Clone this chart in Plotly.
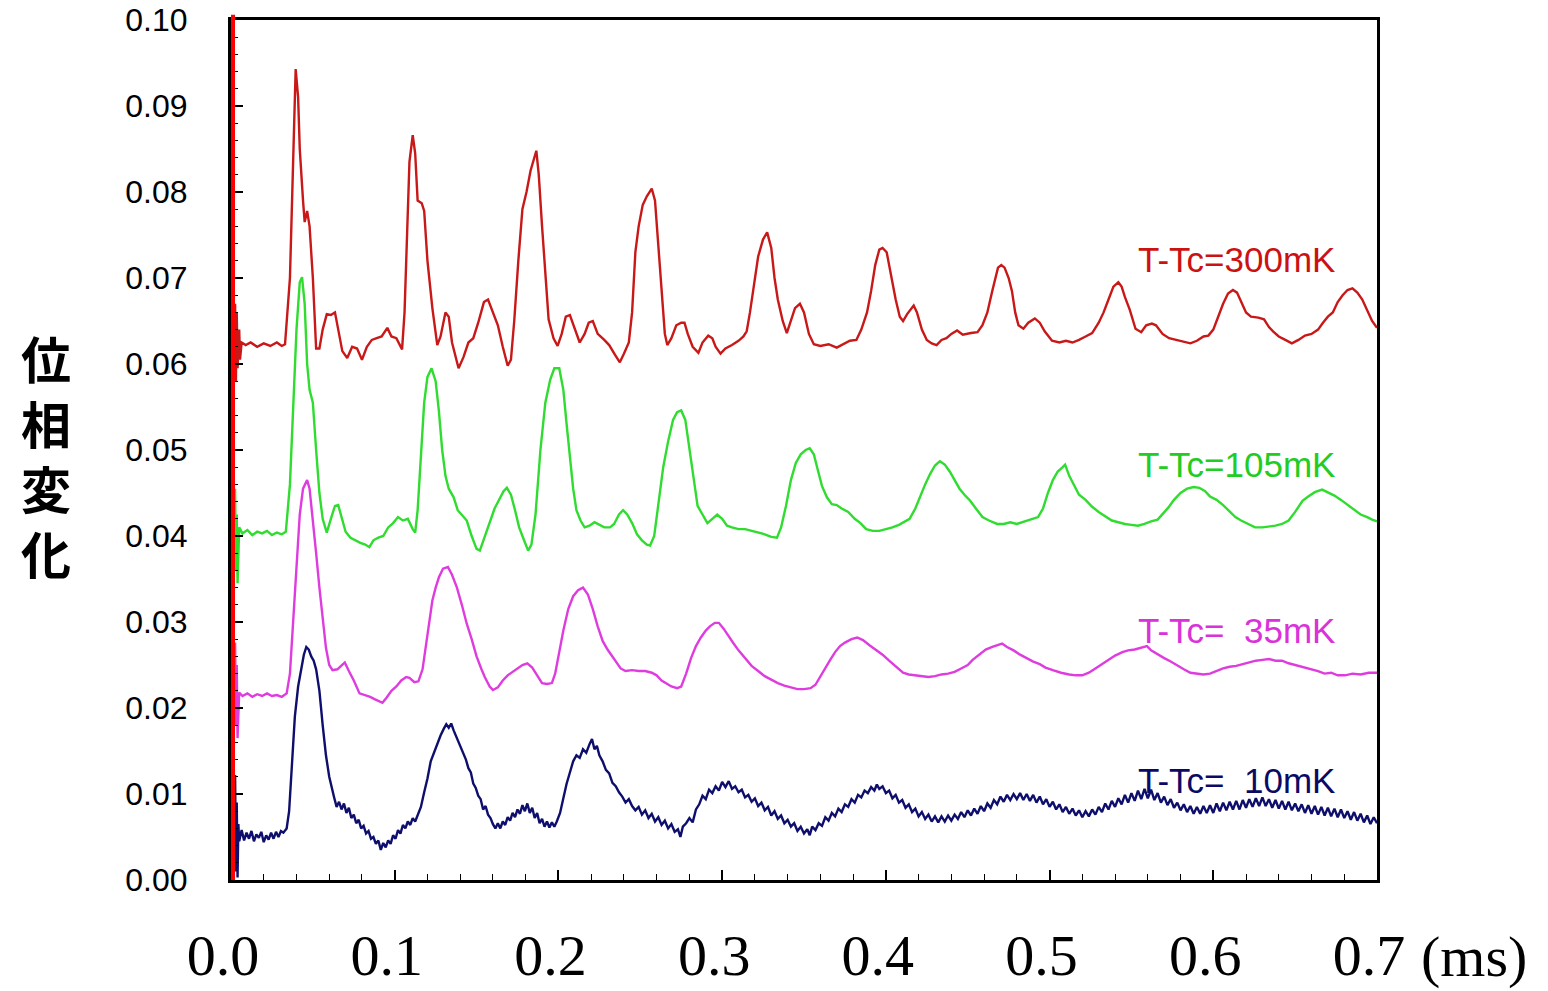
import plotly.graph_objects as go

# ---------------- data (time in ms, phase change) ----------------
RED_300MK = [
    (0.002, 0.0625), (0.0025, 0.067), (0.003, 0.058), (0.0035, 0.066), (0.004, 0.0595), (0.005, 0.064),
    (0.0055, 0.0605), (0.0065, 0.0625), (0.009, 0.0622), (0.012, 0.0625), (0.016, 0.062), (0.020, 0.0624),
    (0.024, 0.0621), (0.028, 0.0625), (0.031, 0.0621), (0.033, 0.0623), (0.036, 0.070), (0.038, 0.085),
    (0.0395, 0.0943), (0.041, 0.091), (0.042, 0.085), (0.044, 0.079), (0.045, 0.0765), (0.0465, 0.0778),
    (0.048, 0.076), (0.050, 0.070), (0.052, 0.0618), (0.054, 0.0618), (0.056, 0.064), (0.0585, 0.0658),
    (0.061, 0.0657), (0.0635, 0.066), (0.066, 0.0635), (0.068, 0.0615), (0.071, 0.0607), (0.074, 0.062),
    (0.077, 0.0618), (0.080, 0.0605), (0.083, 0.062), (0.086, 0.0628), (0.089, 0.063), (0.092, 0.0632),
    (0.0955, 0.0642), (0.098, 0.0632), (0.101, 0.063), (0.1045, 0.0617), (0.106, 0.066), (0.1075, 0.075),
    (0.109, 0.0835), (0.111, 0.0866), (0.1125, 0.0845), (0.114, 0.079), (0.1165, 0.0787), (0.118, 0.0778),
    (0.120, 0.072), (0.123, 0.0665), (0.126, 0.0622), (0.128, 0.0632), (0.131, 0.066), (0.133, 0.0655),
    (0.135, 0.0625), (0.139, 0.0595), (0.142, 0.0608), (0.145, 0.0625), (0.148, 0.063), (0.151, 0.0648),
    (0.1545, 0.0672), (0.157, 0.0675), (0.160, 0.066), (0.163, 0.0645), (0.166, 0.062), (0.169, 0.0598),
    (0.171, 0.0605), (0.173, 0.065), (0.1755, 0.072), (0.178, 0.078), (0.1805, 0.080), (0.183, 0.0825),
    (0.1865, 0.0848), (0.188, 0.082), (0.190, 0.076), (0.192, 0.070), (0.194, 0.0652), (0.197, 0.063),
    (0.1995, 0.0621), (0.202, 0.0635), (0.2045, 0.0655), (0.207, 0.0657), (0.210, 0.064), (0.213, 0.0625),
    (0.216, 0.0635), (0.2185, 0.0648), (0.221, 0.065), (0.224, 0.0635), (0.228, 0.0628), (0.231, 0.0622),
    (0.2345, 0.0611), (0.2375, 0.0602), (0.240, 0.0612), (0.243, 0.0625), (0.245, 0.066), (0.247, 0.073),
    (0.249, 0.076), (0.2515, 0.0785), (0.254, 0.0795), (0.257, 0.0804), (0.259, 0.079), (0.261, 0.074),
    (0.263, 0.068), (0.265, 0.0635), (0.2665, 0.0622), (0.269, 0.063), (0.272, 0.0645), (0.275, 0.0648),
    (0.277, 0.0648), (0.279, 0.0635), (0.282, 0.062), (0.2855, 0.0613), (0.288, 0.0625), (0.2915, 0.0633),
    (0.294, 0.063), (0.296, 0.062), (0.299, 0.0612), (0.302, 0.0618), (0.306, 0.0622), (0.310, 0.0627),
    (0.313, 0.0632), (0.315, 0.0638), (0.317, 0.066), (0.3195, 0.0695), (0.322, 0.0725), (0.325, 0.0745),
    (0.3275, 0.0753), (0.330, 0.0735), (0.332, 0.070), (0.334, 0.0675), (0.337, 0.065), (0.3395, 0.0636),
    (0.342, 0.065), (0.3445, 0.0665), (0.3475, 0.067), (0.350, 0.066), (0.353, 0.0635), (0.356, 0.0623),
    (0.360, 0.0621), (0.365, 0.0623), (0.370, 0.0619), (0.375, 0.0624), (0.378, 0.0627), (0.382, 0.0628),
    (0.385, 0.064), (0.3885, 0.066), (0.391, 0.0685), (0.3935, 0.0715), (0.396, 0.0733), (0.398, 0.0735),
    (0.4005, 0.073), (0.403, 0.0705), (0.406, 0.0675), (0.4085, 0.0655), (0.4105, 0.065), (0.413, 0.0658),
    (0.417, 0.0668), (0.419, 0.066), (0.422, 0.064), (0.425, 0.0628), (0.428, 0.0624), (0.431, 0.0622),
    (0.434, 0.0628), (0.437, 0.063), (0.440, 0.0635), (0.4435, 0.0639), (0.447, 0.0634), (0.452, 0.0636),
    (0.456, 0.0637), (0.459, 0.0645), (0.462, 0.066), (0.465, 0.0685), (0.4685, 0.0712), (0.4705, 0.0715),
    (0.4725, 0.0712), (0.475, 0.070), (0.477, 0.0685), (0.479, 0.066), (0.481, 0.0645), (0.484, 0.0641),
    (0.487, 0.0648), (0.491, 0.0653), (0.494, 0.0648), (0.497, 0.0638), (0.5015, 0.0627), (0.506, 0.0625),
    (0.510, 0.0627), (0.514, 0.0625), (0.518, 0.0628), (0.522, 0.0632), (0.526, 0.0636), (0.530, 0.0648),
    (0.533, 0.066), (0.536, 0.0675), (0.539, 0.069), (0.542, 0.0695), (0.544, 0.069), (0.546, 0.0678),
    (0.549, 0.0663), (0.5525, 0.0641), (0.556, 0.0637), (0.559, 0.0645), (0.5625, 0.0647), (0.565, 0.0645),
    (0.569, 0.0635), (0.573, 0.063), (0.577, 0.0628), (0.581, 0.0626), (0.586, 0.0624), (0.590, 0.0627),
    (0.594, 0.0632), (0.597, 0.0633), (0.600, 0.064), (0.603, 0.0655), (0.606, 0.067), (0.609, 0.0682),
    (0.612, 0.0686), (0.6145, 0.0683), (0.617, 0.0672), (0.620, 0.066), (0.623, 0.0655), (0.6275, 0.0654),
    (0.631, 0.0652), (0.634, 0.0643), (0.6365, 0.0638), (0.640, 0.0632), (0.644, 0.0628), (0.648, 0.0624),
    (0.652, 0.0628), (0.656, 0.0633), (0.660, 0.0635), (0.664, 0.064), (0.667, 0.0648), (0.670, 0.0655),
    (0.673, 0.066), (0.676, 0.0672), (0.679, 0.068), (0.682, 0.0686), (0.685, 0.0688), (0.688, 0.0683),
    (0.691, 0.0675), (0.694, 0.0662), (0.697, 0.065), (0.700, 0.0642),
]

GREEN_105MK = [
    (0.002, 0.0405), (0.0025, 0.0455), (0.003, 0.036), (0.0035, 0.0425), (0.004, 0.0345), (0.005, 0.041),
    (0.007, 0.0403), (0.010, 0.0407), (0.013, 0.0401), (0.016, 0.0405), (0.019, 0.0403), (0.022, 0.0406),
    (0.025, 0.0401), (0.028, 0.0404), (0.031, 0.0402), (0.0335, 0.0405), (0.036, 0.046), (0.038, 0.055),
    (0.040, 0.064), (0.042, 0.0695), (0.0434, 0.0701), (0.045, 0.067), (0.0465, 0.060), (0.048, 0.057),
    (0.050, 0.0555), (0.052, 0.050), (0.054, 0.045), (0.056, 0.042), (0.0585, 0.0404), (0.061, 0.042),
    (0.0635, 0.0435), (0.0655, 0.0436), (0.068, 0.042), (0.070, 0.0405), (0.073, 0.0398), (0.076, 0.0395),
    (0.079, 0.0392), (0.082, 0.039), (0.0845, 0.0387), (0.087, 0.0395), (0.090, 0.0398), (0.093, 0.040),
    (0.096, 0.041), (0.099, 0.0415), (0.102, 0.0422), (0.105, 0.0418), (0.108, 0.042), (0.111, 0.0408),
    (0.1125, 0.0404), (0.114, 0.043), (0.116, 0.050), (0.118, 0.0555), (0.120, 0.0585), (0.1225, 0.0595),
    (0.125, 0.058), (0.127, 0.0545), (0.129, 0.050), (0.131, 0.047), (0.133, 0.0455), (0.136, 0.0445),
    (0.1385, 0.043), (0.141, 0.0425), (0.144, 0.0418), (0.147, 0.040), (0.150, 0.0385), (0.152, 0.0383),
    (0.155, 0.040), (0.158, 0.0415), (0.161, 0.0432), (0.164, 0.0443), (0.1665, 0.0452), (0.1685, 0.0456),
    (0.171, 0.0448), (0.1735, 0.043), (0.176, 0.041), (0.179, 0.0395), (0.1815, 0.0383), (0.1835, 0.039),
    (0.186, 0.0425), (0.189, 0.050), (0.192, 0.0555), (0.195, 0.0582), (0.1975, 0.0595), (0.2005, 0.0595),
    (0.203, 0.057), (0.205, 0.053), (0.207, 0.049), (0.209, 0.0455), (0.211, 0.043), (0.2135, 0.0418),
    (0.216, 0.041), (0.219, 0.0412), (0.222, 0.0416), (0.225, 0.0413), (0.228, 0.041), (0.2315, 0.041),
    (0.234, 0.0414), (0.237, 0.0425), (0.2395, 0.043), (0.242, 0.0425), (0.245, 0.0415), (0.248, 0.0402),
    (0.251, 0.0395), (0.254, 0.039), (0.256, 0.0389), (0.2585, 0.040), (0.261, 0.0435), (0.264, 0.048),
    (0.267, 0.051), (0.270, 0.0535), (0.2725, 0.0544), (0.275, 0.0546), (0.2775, 0.0535), (0.280, 0.050),
    (0.2825, 0.0465), (0.285, 0.0435), (0.288, 0.0425), (0.291, 0.0415), (0.294, 0.042), (0.297, 0.0425),
    (0.300, 0.042), (0.303, 0.0412), (0.306, 0.041), (0.310, 0.0408), (0.314, 0.0408), (0.318, 0.0406),
    (0.322, 0.0404), (0.326, 0.0402), (0.330, 0.0399), (0.3335, 0.0398), (0.336, 0.041), (0.339, 0.0435),
    (0.342, 0.0465), (0.345, 0.0485), (0.348, 0.0495), (0.351, 0.050), (0.3535, 0.0502), (0.356, 0.0495),
    (0.358, 0.048), (0.361, 0.0458), (0.364, 0.0445), (0.367, 0.0437), (0.370, 0.0436), (0.373, 0.0432),
    (0.377, 0.0428), (0.381, 0.042), (0.3845, 0.0415), (0.388, 0.0408), (0.392, 0.0406), (0.396, 0.0406),
    (0.400, 0.0408), (0.404, 0.041), (0.408, 0.0413), (0.411, 0.0416), (0.4145, 0.042), (0.418, 0.0432),
    (0.421, 0.0447), (0.424, 0.046), (0.427, 0.0472), (0.430, 0.0482), (0.433, 0.0487), (0.436, 0.0483),
    (0.439, 0.0475), (0.442, 0.0465), (0.445, 0.0455), (0.448, 0.0448), (0.4515, 0.0441), (0.455, 0.0432),
    (0.459, 0.0422), (0.463, 0.0418), (0.468, 0.0414), (0.472, 0.0414), (0.476, 0.0416), (0.480, 0.0414),
    (0.485, 0.0417), (0.489, 0.0419), (0.493, 0.0422), (0.496, 0.0432), (0.499, 0.045), (0.502, 0.0465),
    (0.505, 0.0475), (0.508, 0.048), (0.5095, 0.0483), (0.512, 0.047), (0.515, 0.0458), (0.518, 0.0448),
    (0.522, 0.0442), (0.526, 0.0434), (0.530, 0.0428), (0.534, 0.0423), (0.538, 0.0418), (0.542, 0.0416),
    (0.546, 0.0414), (0.550, 0.0413), (0.554, 0.0412), (0.558, 0.0414), (0.562, 0.0417), (0.566, 0.0419),
    (0.569, 0.0425), (0.5725, 0.0433), (0.576, 0.0442), (0.580, 0.045), (0.584, 0.0455), (0.588, 0.0457),
    (0.5915, 0.0456), (0.595, 0.0452), (0.598, 0.0446), (0.602, 0.0442), (0.606, 0.0436), (0.610, 0.0428),
    (0.6135, 0.0422), (0.617, 0.0418), (0.621, 0.0414), (0.6255, 0.041), (0.630, 0.041), (0.634, 0.0411),
    (0.638, 0.0412), (0.642, 0.0414), (0.646, 0.0418), (0.650, 0.0428), (0.6545, 0.0441), (0.658, 0.0446),
    (0.662, 0.0451), (0.6665, 0.0454), (0.670, 0.0451), (0.674, 0.0447), (0.678, 0.0442), (0.682, 0.0436),
    (0.6865, 0.043), (0.690, 0.0425), (0.694, 0.0422), (0.697, 0.0419), (0.700, 0.0417),
]

MAGENTA_35MK = [
    (0.002, 0.0215), (0.0025, 0.0276), (0.003, 0.018), (0.0035, 0.025), (0.004, 0.0165), (0.005, 0.0218),
    (0.007, 0.0214), (0.010, 0.0217), (0.013, 0.0213), (0.016, 0.0216), (0.019, 0.0214), (0.022, 0.0217),
    (0.025, 0.0214), (0.028, 0.0215), (0.031, 0.0213), (0.034, 0.0217), (0.036, 0.024), (0.038, 0.030),
    (0.040, 0.037), (0.042, 0.0425), (0.044, 0.0455), (0.0465, 0.0465), (0.048, 0.0455), (0.050, 0.042),
    (0.052, 0.038), (0.054, 0.034), (0.056, 0.0305), (0.058, 0.027), (0.060, 0.025), (0.062, 0.0244),
    (0.065, 0.0245), (0.0675, 0.025), (0.0695, 0.0253), (0.072, 0.0243), (0.075, 0.0232), (0.0785, 0.0217),
    (0.082, 0.0215), (0.085, 0.0213), (0.088, 0.021), (0.0905, 0.0208), (0.0925, 0.0206), (0.095, 0.0212),
    (0.098, 0.022), (0.101, 0.0225), (0.104, 0.0232), (0.107, 0.0236), (0.109, 0.0235), (0.112, 0.023),
    (0.1145, 0.0231), (0.117, 0.0245), (0.119, 0.027), (0.121, 0.030), (0.123, 0.0325), (0.125, 0.034),
    (0.127, 0.0352), (0.1295, 0.0362), (0.1325, 0.0364), (0.135, 0.0355), (0.138, 0.034), (0.141, 0.032),
    (0.144, 0.0298), (0.147, 0.028), (0.150, 0.026), (0.153, 0.0245), (0.155, 0.0236), (0.158, 0.0225),
    (0.160, 0.0221), (0.163, 0.0224), (0.166, 0.0232), (0.169, 0.0238), (0.172, 0.0242), (0.175, 0.0246),
    (0.178, 0.025), (0.181, 0.0252), (0.184, 0.0247), (0.187, 0.0238), (0.190, 0.0229), (0.193, 0.0228),
    (0.196, 0.0229), (0.198, 0.024), (0.200, 0.0262), (0.203, 0.029), (0.206, 0.0315), (0.209, 0.033),
    (0.212, 0.0337), (0.215, 0.034), (0.218, 0.0332), (0.221, 0.0315), (0.224, 0.0295), (0.227, 0.0278),
    (0.230, 0.0268), (0.2345, 0.0256), (0.238, 0.0246), (0.241, 0.0243), (0.245, 0.0244), (0.249, 0.0243),
    (0.253, 0.0243), (0.257, 0.0241), (0.260, 0.0238), (0.263, 0.0232), (0.266, 0.0228), (0.269, 0.0225),
    (0.2725, 0.0223), (0.275, 0.0225), (0.278, 0.024), (0.281, 0.0258), (0.284, 0.0272), (0.287, 0.0282),
    (0.290, 0.029), (0.2925, 0.0295), (0.2955, 0.0299), (0.298, 0.0299), (0.301, 0.0292), (0.304, 0.0283),
    (0.307, 0.0275), (0.310, 0.0267), (0.314, 0.0258), (0.318, 0.0249), (0.322, 0.0243), (0.326, 0.0237),
    (0.330, 0.0233), (0.334, 0.0229), (0.338, 0.0226), (0.342, 0.0224), (0.346, 0.0222), (0.350, 0.0222),
    (0.354, 0.0223), (0.357, 0.0227), (0.360, 0.0237), (0.363, 0.0247), (0.366, 0.0256), (0.369, 0.0265),
    (0.372, 0.0272), (0.375, 0.0276), (0.379, 0.028), (0.3825, 0.0282), (0.386, 0.0279), (0.390, 0.0273),
    (0.394, 0.0268), (0.398, 0.0262), (0.402, 0.0255), (0.406, 0.0248), (0.4105, 0.0241), (0.414, 0.0239),
    (0.418, 0.0238), (0.422, 0.0237), (0.426, 0.0236), (0.430, 0.0237), (0.434, 0.0239), (0.438, 0.024),
    (0.442, 0.0242), (0.446, 0.0246), (0.450, 0.025), (0.453, 0.0256), (0.457, 0.0262), (0.461, 0.0268),
    (0.465, 0.0271), (0.468, 0.0273), (0.471, 0.0275), (0.474, 0.0271), (0.478, 0.0267), (0.482, 0.0262),
    (0.486, 0.0258), (0.490, 0.0254), (0.494, 0.0251), (0.4975, 0.0247), (0.502, 0.0244), (0.507, 0.0241),
    (0.512, 0.0239), (0.516, 0.0238), (0.520, 0.0238), (0.524, 0.0241), (0.528, 0.0246), (0.532, 0.0251),
    (0.536, 0.0256), (0.540, 0.0261), (0.5445, 0.0265), (0.548, 0.0267), (0.552, 0.0268), (0.556, 0.027),
    (0.5595, 0.0272), (0.562, 0.0267), (0.566, 0.0262), (0.570, 0.0258), (0.574, 0.0254), (0.578, 0.0249),
    (0.582, 0.0245), (0.586, 0.0241), (0.590, 0.024), (0.594, 0.0239), (0.598, 0.024), (0.602, 0.0243),
    (0.606, 0.0246), (0.610, 0.0248), (0.614, 0.0249), (0.618, 0.0251), (0.622, 0.0253), (0.626, 0.0255),
    (0.630, 0.0256), (0.634, 0.0257), (0.638, 0.0255), (0.642, 0.0255), (0.646, 0.0252), (0.650, 0.025),
    (0.654, 0.0248), (0.658, 0.0246), (0.6605, 0.0244), (0.664, 0.0243), (0.668, 0.024), (0.672, 0.0241),
    (0.676, 0.0238), (0.6805, 0.0238), (0.685, 0.024), (0.690, 0.0239), (0.695, 0.0241), (0.700, 0.0241),
]

NAVY_10MK = [
    (0.002, 0.004), (0.0025, 0.0122), (0.003, 0.001), (0.0035, 0.009), (0.004, 0.0003), (0.0045, 0.0065),
    (0.005, 0.0045), (0.0065, 0.0058), (0.008, 0.0046), (0.0095, 0.0055), (0.011, 0.0048), (0.0125, 0.0057),
    (0.014, 0.0045), (0.0155, 0.0053), (0.017, 0.0049), (0.0185, 0.0056), (0.020, 0.0044), (0.0215, 0.0052),
    (0.023, 0.0047), (0.0245, 0.0055), (0.026, 0.0048), (0.0275, 0.0056), (0.029, 0.005), (0.0305, 0.0057),
    (0.032, 0.0055), (0.034, 0.006), (0.0355, 0.008), (0.037, 0.013), (0.039, 0.019), (0.041, 0.0225),
    (0.043, 0.0245), (0.0445, 0.0262), (0.046, 0.0271), (0.0475, 0.0268), (0.049, 0.026), (0.0505, 0.0255),
    (0.052, 0.0245), (0.054, 0.022), (0.056, 0.018), (0.058, 0.0145), (0.060, 0.012), (0.062, 0.0102),
    (0.063, 0.0096), (0.0645, 0.0085), (0.066, 0.0091), (0.0675, 0.0082), (0.069, 0.0089), (0.0705, 0.0078),
    (0.072, 0.0084), (0.0735, 0.0072), (0.075, 0.0076), (0.0765, 0.0066), (0.078, 0.007), (0.0795, 0.006),
    (0.081, 0.0063), (0.0825, 0.0054), (0.084, 0.0057), (0.0855, 0.0048), (0.087, 0.005), (0.0885, 0.0042),
    (0.090, 0.0046), (0.0915, 0.0035), (0.093, 0.0043), (0.0945, 0.0038), (0.096, 0.0046), (0.0975, 0.0042),
    (0.099, 0.0052), (0.1005, 0.0048), (0.102, 0.0058), (0.1035, 0.0054), (0.105, 0.0064), (0.1065, 0.006),
    (0.108, 0.0068), (0.1095, 0.0064), (0.111, 0.0072), (0.1125, 0.0068), (0.114, 0.0075), (0.116, 0.0085),
    (0.118, 0.0102), (0.120, 0.0118), (0.122, 0.0138), (0.124, 0.0148), (0.126, 0.016), (0.128, 0.0168),
    (0.130, 0.0176), (0.1315, 0.0181), (0.133, 0.0177), (0.1345, 0.0182), (0.136, 0.0174), (0.138, 0.0165),
    (0.140, 0.0155), (0.142, 0.0146), (0.1435, 0.014), (0.145, 0.013), (0.1465, 0.0125), (0.148, 0.0112),
    (0.1495, 0.0107), (0.151, 0.0098), (0.1525, 0.0094), (0.154, 0.0082), (0.1555, 0.0086), (0.157, 0.0076),
    (0.1585, 0.0072), (0.160, 0.0065), (0.1615, 0.006), (0.163, 0.0066), (0.1645, 0.006), (0.166, 0.0068),
    (0.1675, 0.0064), (0.169, 0.0073), (0.1705, 0.0069), (0.172, 0.0078), (0.1735, 0.0073), (0.175, 0.0082),
    (0.1765, 0.0077), (0.178, 0.0087), (0.1795, 0.008), (0.181, 0.0089), (0.1825, 0.0078), (0.184, 0.0084),
    (0.1855, 0.0072), (0.187, 0.0078), (0.1885, 0.0066), (0.190, 0.0071), (0.1915, 0.0062), (0.193, 0.0068),
    (0.1945, 0.0061), (0.196, 0.0067), (0.1975, 0.0062), (0.199, 0.0068), (0.201, 0.0078), (0.203, 0.0095),
    (0.205, 0.0112), (0.207, 0.0125), (0.209, 0.0138), (0.211, 0.0145), (0.213, 0.0142), (0.215, 0.0152),
    (0.217, 0.0148), (0.219, 0.0158), (0.2205, 0.0164), (0.222, 0.0152), (0.2235, 0.0156), (0.225, 0.0145),
    (0.227, 0.0138), (0.229, 0.0128), (0.231, 0.0124), (0.233, 0.0113), (0.235, 0.0109), (0.237, 0.0102),
    (0.239, 0.0097), (0.241, 0.009), (0.243, 0.0094), (0.245, 0.0086), (0.247, 0.0081), (0.249, 0.0085),
    (0.251, 0.0076), (0.253, 0.0081), (0.255, 0.0072), (0.257, 0.0077), (0.259, 0.0068), (0.261, 0.0073),
    (0.263, 0.0064), (0.265, 0.0069), (0.267, 0.006), (0.269, 0.0065), (0.271, 0.0056), (0.273, 0.0059),
    (0.2745, 0.005), (0.276, 0.0062), (0.278, 0.0066), (0.280, 0.0072), (0.282, 0.0067), (0.284, 0.0082),
    (0.286, 0.0088), (0.288, 0.0098), (0.290, 0.0094), (0.292, 0.0105), (0.294, 0.0101), (0.296, 0.0109),
    (0.298, 0.0104), (0.300, 0.0114), (0.302, 0.0108), (0.304, 0.0115), (0.306, 0.0106), (0.308, 0.0109),
    (0.310, 0.0102), (0.312, 0.0105), (0.314, 0.0096), (0.316, 0.0099), (0.318, 0.0091), (0.320, 0.0095),
    (0.322, 0.0086), (0.324, 0.009), (0.326, 0.0081), (0.328, 0.0085), (0.330, 0.0075), (0.332, 0.008),
    (0.334, 0.0071), (0.336, 0.0075), (0.338, 0.0066), (0.340, 0.007), (0.342, 0.0062), (0.344, 0.0066),
    (0.346, 0.0057), (0.348, 0.0062), (0.350, 0.0054), (0.352, 0.0059), (0.3535, 0.0052), (0.355, 0.0062),
    (0.357, 0.0058), (0.359, 0.0066), (0.361, 0.0063), (0.363, 0.0073), (0.365, 0.0069), (0.367, 0.0078),
    (0.369, 0.0074), (0.371, 0.0083), (0.373, 0.0079), (0.375, 0.0088), (0.377, 0.0085), (0.379, 0.0094),
    (0.381, 0.009), (0.383, 0.0099), (0.385, 0.0096), (0.387, 0.0104), (0.389, 0.0101), (0.391, 0.0108),
    (0.393, 0.0104), (0.3945, 0.0111), (0.396, 0.0106), (0.398, 0.0109), (0.400, 0.0101), (0.402, 0.0104),
    (0.404, 0.0095), (0.406, 0.0099), (0.408, 0.009), (0.410, 0.0093), (0.412, 0.0084), (0.414, 0.0088),
    (0.416, 0.0079), (0.418, 0.0083), (0.420, 0.0074), (0.422, 0.0079), (0.424, 0.0071), (0.426, 0.0076),
    (0.428, 0.0068), (0.430, 0.0074), (0.432, 0.0067), (0.434, 0.0074), (0.436, 0.0068), (0.438, 0.0075),
    (0.440, 0.0069), (0.442, 0.0076), (0.444, 0.0071), (0.446, 0.0079), (0.448, 0.0073), (0.450, 0.0081),
    (0.452, 0.0075), (0.454, 0.0083), (0.456, 0.0077), (0.458, 0.0086), (0.460, 0.008), (0.462, 0.0089),
    (0.464, 0.0084), (0.466, 0.0093), (0.468, 0.0088), (0.470, 0.0097), (0.472, 0.0091), (0.474, 0.0099),
    (0.476, 0.0093), (0.478, 0.010), (0.480, 0.0094), (0.482, 0.0101), (0.484, 0.0093), (0.486, 0.010),
    (0.488, 0.0092), (0.490, 0.0099), (0.492, 0.009), (0.494, 0.0097), (0.496, 0.0088), (0.498, 0.0094),
    (0.500, 0.0085), (0.502, 0.0091), (0.504, 0.0082), (0.506, 0.0088), (0.508, 0.0079), (0.510, 0.0085),
    (0.512, 0.0077), (0.514, 0.0083), (0.516, 0.0075), (0.518, 0.0081), (0.520, 0.0073), (0.522, 0.008),
    (0.524, 0.0074), (0.526, 0.0082), (0.528, 0.0076), (0.530, 0.0085), (0.532, 0.0079), (0.534, 0.0089),
    (0.536, 0.0082), (0.538, 0.0092), (0.540, 0.0085), (0.542, 0.0095), (0.544, 0.0088), (0.546, 0.0099),
    (0.548, 0.009), (0.550, 0.0101), (0.552, 0.0092), (0.554, 0.0104), (0.556, 0.0094), (0.558, 0.0106),
    (0.560, 0.0095), (0.562, 0.0105), (0.564, 0.0093), (0.566, 0.0101), (0.568, 0.009), (0.570, 0.0097),
    (0.572, 0.0087), (0.574, 0.0094), (0.576, 0.0084), (0.578, 0.009), (0.580, 0.0081), (0.582, 0.0088),
    (0.584, 0.0079), (0.586, 0.0086), (0.588, 0.0077), (0.590, 0.0085), (0.592, 0.0077), (0.594, 0.0086),
    (0.596, 0.0078), (0.598, 0.0087), (0.600, 0.0078), (0.602, 0.0089), (0.604, 0.008), (0.606, 0.009),
    (0.608, 0.0081), (0.610, 0.0091), (0.612, 0.0082), (0.614, 0.0092), (0.616, 0.0082), (0.618, 0.0093),
    (0.620, 0.0084), (0.622, 0.0094), (0.624, 0.0085), (0.626, 0.0095), (0.628, 0.0086), (0.630, 0.0096),
    (0.632, 0.0086), (0.634, 0.0094), (0.636, 0.0084), (0.638, 0.0093), (0.640, 0.0083), (0.642, 0.0092),
    (0.644, 0.0082), (0.646, 0.0091), (0.648, 0.0081), (0.650, 0.0089), (0.652, 0.008), (0.654, 0.0088),
    (0.656, 0.0078), (0.658, 0.0087), (0.660, 0.0077), (0.662, 0.0086), (0.664, 0.0076), (0.666, 0.0085),
    (0.668, 0.0075), (0.670, 0.0084), (0.672, 0.0074), (0.674, 0.0083), (0.676, 0.0073), (0.678, 0.0082),
    (0.680, 0.0072), (0.682, 0.008), (0.684, 0.007), (0.686, 0.0079), (0.688, 0.0069), (0.690, 0.0077),
    (0.692, 0.0067), (0.694, 0.0075), (0.696, 0.0065), (0.698, 0.0073), (0.700, 0.0066),
]

SERIES_LABELS = ["T-Tc=300mK", "T-Tc=105mK", "T-Tc=\u00a0\u00a035mK", "T-Tc=\u00a0\u00a010mK"]
LABEL_POS = [(0.5530, 0.0721), (0.5530, 0.0483), (0.5530, 0.0290), (0.5530, 0.0116)]
X_TICKS = [0.0, 0.1, 0.2, 0.3, 0.4, 0.5, 0.6, 0.7]
X_TICK_TEXT = ["0.0", "0.1", "0.2", "0.3", "0.4", "0.5", "0.6", "0.7"]
Y_TICKS = [0.00, 0.01, 0.02, 0.03, 0.04, 0.05, 0.06, 0.07, 0.08, 0.09, 0.10]
Y_TITLE = "位<br>相<br>変<br>化"
X_UNIT = "(ms)"

LINE_COLORS = ["#C81818", "#2FDC2F", "#DE3CDE", "#0E0E6C"]
TEXT_COLORS = ["#CC1111", "#22CC22", "#D932D9", "#0A0A66"]
LINE_WIDTHS = [2.4, 2.4, 2.4, 2.4]

fig = go.Figure()
for pts, name, col, lw in zip([RED_300MK, GREEN_105MK, MAGENTA_35MK, NAVY_10MK], SERIES_LABELS, LINE_COLORS, LINE_WIDTHS):
    t, v = zip(*pts)
    fig.add_trace(go.Scatter(x=list(t), y=list(v), mode="lines", name=name,
                             line=dict(color=col, width=lw), showlegend=False))

annotations = []
for (lx, ly), txt, col in zip(LABEL_POS, SERIES_LABELS, TEXT_COLORS):
    annotations.append(dict(x=lx, y=ly, xref="x", yref="y", text=txt, showarrow=False,
                            xanchor="left", yanchor="middle",
                            font=dict(family="Liberation Sans, Arial, sans-serif", size=35, color=col)))

annotations.append(dict(x=-0.1614, y=0.4942, xref="paper", yref="paper", text=Y_TITLE, showarrow=False,
                        xanchor="center", yanchor="middle", align="center",
                        font=dict(family="Noto Sans CJK JP", size=50, color="black", weight="bold")))

annotations.append(dict(x=1.0, y=-0.0895, xref="paper", yref="paper", text=X_UNIT, showarrow=False,
                        xanchor="left", yanchor="middle", xshift=42,
                        font=dict(family="Liberation Serif, Times New Roman, serif", size=58, color="black")))

fig.update_layout(
    width=1548, height=991,
    margin=dict(l=231, r=171, t=20, b=111, autoexpand=False),
    paper_bgcolor="white", plot_bgcolor="white",
    annotations=annotations,
    shapes=[dict(type="line", xref="x", yref="paper", x0=0, x1=0, y0=0, y1=1.006,
                 line=dict(color="#FF0000", width=8), layer="above")],
)

fig.update_xaxes(
    range=[0, 0.7], showgrid=False, zeroline=False, automargin=False,
    showline=True, linecolor="black", linewidth=3, mirror=True,
    ticks="inside", ticklen=10, tickwidth=1.5, tickcolor="black",
    tickvals=X_TICKS, ticktext=X_TICK_TEXT,
    tickfont=dict(family="Liberation Serif, Times New Roman, serif", size=58, color="black"),
    ticklabelstandoff=22, ticklabelshift=-8,
    minor=dict(dtick=0.02, ticks="inside", ticklen=6, tickwidth=1.2, tickcolor="black", showgrid=False),
)
fig.update_yaxes(
    range=[0, 0.1], showgrid=False, zeroline=False, automargin=False,
    showline=True, linecolor="black", linewidth=3, mirror=True,
    ticks="inside", ticklen=12, tickwidth=1.5, tickcolor="black",
    tickvals=Y_TICKS, tickformat=".2f",
    tickfont=dict(family="Liberation Sans, Arial, sans-serif", size=32, color="black"),
    ticklabelstandoff=34,
    minor=dict(dtick=0.002, ticks="inside", ticklen=7, tickwidth=1.2, tickcolor="black", showgrid=False),
)

fig.write_html("out.html")
